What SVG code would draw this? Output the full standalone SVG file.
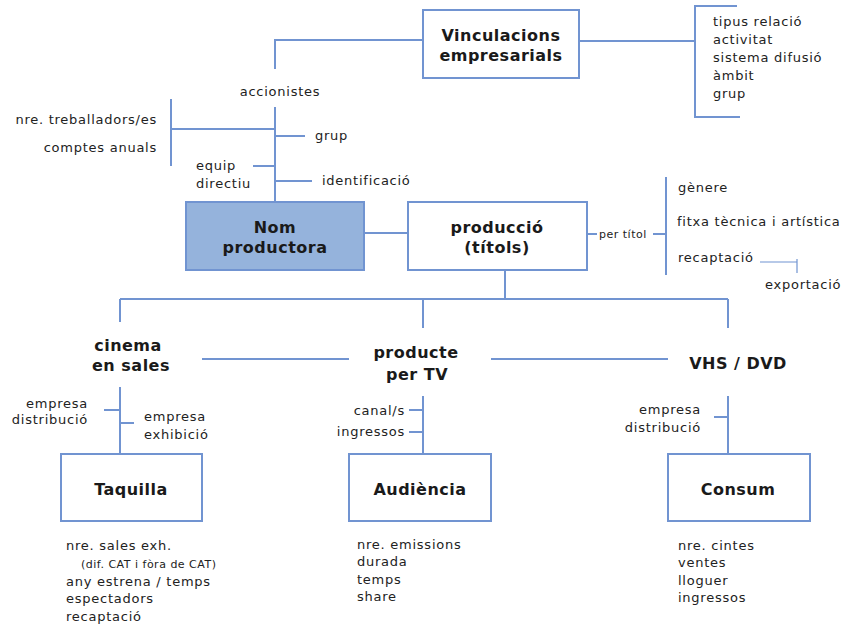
<svg xmlns="http://www.w3.org/2000/svg" width="844" height="627" viewBox="0 0 844 627">
<style>
.ln{fill:none;stroke:#7194d1;stroke-width:2}
.thin{fill:none;stroke:#7194d1;stroke-width:1.2}
.box{fill:#ffffff;stroke:#7194d1;stroke-width:2}
.boxf{fill:#95b3dc;stroke:#7194d1;stroke-width:2}
.t{font-family:"DejaVu Sans",Verdana,sans-serif;font-size:13px;letter-spacing:0.75px;fill:#222}
.s{font-family:"DejaVu Sans",Verdana,sans-serif;font-size:11px;letter-spacing:0.5px;fill:#222}
.b{font-family:"DejaVu Sans",Verdana,sans-serif;font-size:16px;font-weight:bold;letter-spacing:0.5px;fill:#1a1a1a}
.e{text-anchor:end}
.m{text-anchor:middle}
</style>
<rect width="844" height="627" fill="#ffffff"/>
<g id="connectors">
<path class="ln" d="M423,40 H275 V69"/>
<path class="ln" d="M275,107 V202"/>
<path class="ln" d="M171,99 V166 M171,129 H275"/>
<path class="ln" d="M275,136 H305"/>
<path class="ln" d="M253,166 H275"/>
<path class="ln" d="M275,181 H312"/>
<path class="ln" d="M364,233 H408"/>
<path class="ln" d="M579,41 H695"/>
<path class="ln" d="M737,6 H695 V117 H740"/>
<path class="ln" d="M587,234 H597 M653,234 H666"/>
<path class="ln" d="M666,177 V275"/>
<path class="thin" d="M760,262 H797 M797,259 V273"/>
<path class="ln" d="M505,270 V299 M120,299 H728 M120,299 V322 M423,299 V328 M728,299 V328"/>
<path class="ln" d="M202,359 H349 M491,359 H668"/>
<path class="ln" d="M120,387 V454 M104,410 H120 M120,423 H134"/>
<path class="ln" d="M423,396 V454 M409,410 H423 M409,432 H423"/>
<path class="ln" d="M728,396 V454 M714,417 H728"/>
</g>
<g id="vinculacions">
<rect class="box" x="423" y="10" width="156" height="68"/>
<text class="b m" x="501" y="41">Vinculacions</text>
<text class="b m" x="501" y="61">empresarials</text>
</g>
<g id="vinculacions-attrs">
<text class="t" x="713" y="26">tipus relació</text>
<text class="t" x="713" y="44">activitat</text>
<text class="t" x="713" y="62">sistema difusió</text>
<text class="t" x="713" y="80">àmbit</text>
<text class="t" x="713" y="98">grup</text>
</g>
<g id="accionistes"><text class="t m" x="280" y="96">accionistes</text></g>
<g id="empresa-dades">
<text class="t e" x="157" y="124">nre. treballadors/es</text>
<text class="t e" x="157" y="152">comptes anuals</text>
</g>
<g id="grup"><text class="t" x="315" y="140">grup</text></g>
<g id="equip"><text class="t" x="196" y="170">equip</text><text class="t" x="196" y="188">directiu</text></g>
<g id="identificacio"><text class="t" x="322" y="185">identificació</text></g>
<g id="nom-productora">
<rect class="boxf" x="186" y="202" width="178" height="68"/>
<text class="b m" x="275" y="233">Nom</text>
<text class="b m" x="275" y="253">productora</text>
</g>
<g id="produccio">
<rect class="box" x="408" y="202" width="179" height="68"/>
<text class="b m" x="497" y="233">producció</text>
<text class="b m" x="497" y="253">(títols)</text>
</g>
<g id="per-titol"><text class="s" x="599" y="238">per títol</text></g>
<g id="titol-attrs">
<text class="t" x="678" y="192">gènere</text>
<text class="t" x="677" y="226">fitxa tècnica i artística</text>
<text class="t" x="678" y="262">recaptació</text>
<text class="t" x="765" y="289">exportació</text>
</g>
<g id="cinema">
<text class="b m" x="128" y="351">cinema</text>
<text class="b m" x="131" y="371">en sales</text>
</g>
<g id="producte-tv">
<text class="b m" x="416" y="358">producte</text>
<text class="b m" x="417" y="380">per TV</text>
</g>
<g id="vhs-dvd"><text class="b m" x="738" y="369">VHS / DVD</text></g>
<g id="cinema-attrs">
<text class="t e" x="88" y="408">empresa</text>
<text class="t e" x="88" y="424">distribució</text>
<text class="t" x="144" y="421">empresa</text>
<text class="t" x="144" y="439">exhibició</text>
</g>
<g id="tv-attrs">
<text class="t e" x="405" y="415">canal/s</text>
<text class="t e" x="405" y="436">ingressos</text>
</g>
<g id="vhs-attrs">
<text class="t e" x="701" y="414">empresa</text>
<text class="t e" x="701" y="432">distribució</text>
</g>
<g id="taquilla">
<rect class="box" x="61" y="454" width="141" height="67"/>
<text class="b m" x="131" y="495">Taquilla</text>
</g>
<g id="audiencia">
<rect class="box" x="349" y="454" width="142" height="67"/>
<text class="b m" x="420" y="495">Audiència</text>
</g>
<g id="consum">
<rect class="box" x="668" y="454" width="142" height="67"/>
<text class="b m" x="738" y="495">Consum</text>
</g>
<g id="taquilla-attrs">
<text class="t" x="66" y="550">nre. sales exh.</text>
<text class="s" x="81" y="568">(dif. CAT i fòra de CAT)</text>
<text class="t" x="66" y="586">any estrena / temps</text>
<text class="t" x="66" y="603">espectadors</text>
<text class="t" x="66" y="621">recaptació</text>
</g>
<g id="audiencia-attrs">
<text class="t" x="357" y="549">nre. emissions</text>
<text class="t" x="357" y="566">durada</text>
<text class="t" x="357" y="584">temps</text>
<text class="t" x="357" y="601">share</text>
</g>
<g id="consum-attrs">
<text class="t" x="678" y="550">nre. cintes</text>
<text class="t" x="678" y="567">ventes</text>
<text class="t" x="678" y="585">lloguer</text>
<text class="t" x="678" y="602">ingressos</text>
</g>
</svg>
